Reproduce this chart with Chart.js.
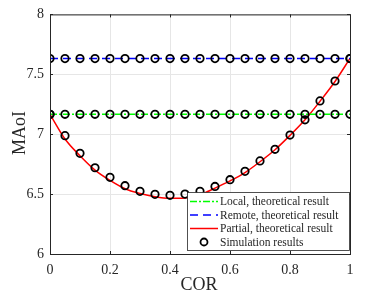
<!DOCTYPE html>
<html>
<head>
<meta charset="utf-8">
<script src="https://cdn.jsdelivr.net/npm/chart.js@4"></script>
<style>
  html, body { margin: 0; padding: 0; background: #fff; }
  #wrap { width: 388px; height: 296px; }
</style>
</head>
<body>
<div id="wrap"><canvas id="chart" width="388" height="296"></canvas></div>
<script>
const corValues = [0, 0.05, 0.1, 0.15, 0.2, 0.25, 0.3, 0.35, 0.4, 0.45, 0.5,
                   0.55, 0.6, 0.65, 0.7, 0.75, 0.8, 0.85, 0.9, 0.95, 1];
const localTheory = [7.166, 7.166];
const remoteTheory = [7.631, 7.631];
const partialTheory = [7.166, 6.96, 6.82, 6.70, 6.614, 6.545, 6.505, 6.478, 6.465, 6.468, 6.495,
                       6.55, 6.61, 6.68, 6.77, 6.87, 6.99, 7.12, 7.275, 7.44, 7.632];
const simLocal = [7.166, 7.166, 7.166, 7.166, 7.166, 7.166, 7.166, 7.166, 7.166, 7.166, 7.166,
                  7.166, 7.166, 7.166, 7.166, 7.166, 7.166, 7.166, 7.166, 7.166, 7.166];
const simRemote = [7.631, 7.631, 7.631, 7.631, 7.631, 7.631, 7.631, 7.631, 7.631, 7.631, 7.631,
                   7.631, 7.631, 7.631, 7.631, 7.631, 7.631, 7.631, 7.631, 7.631, 7.631];
const simPartial = [7.166, 6.988, 6.84, 6.72, 6.64, 6.57, 6.523, 6.498, 6.49, 6.50, 6.523,
                    6.564, 6.62, 6.69, 6.777, 6.874, 6.993, 7.12, 7.278, 7.444, 7.632];
const xTicks = [0, 0.2, 0.4, 0.6, 0.8, 1];
const yTicks = [6, 6.5, 7, 7.5, 8];
const legendLabels = ['Local, theoretical result', 'Remote, theoretical result',
                      'Partial, theoretical result', 'Simulation results'];

const serif = '"Liberation Serif", "Times New Roman", serif';
const axisColor = '#262626';

const pts = (xs, ys) => ys.map((y, i) => ({ x: xs[i], y }));
const ends = [corValues[0], corValues[corValues.length - 1]];

const simStyle = {
    type: 'scatter', showLine: false, pointStyle: 'circle', pointRadius: 3.7,
    pointBorderWidth: 1.8, pointBorderColor: '#000', pointBackgroundColor: 'rgba(0,0,0,0)'
};

// legend, box and axis titles drawn the MATLAB way
const matlabFrame = {
    id: 'matlabFrame',
    afterDraw(chart) {
        const ctx = chart.ctx, a = chart.chartArea;
        const xs = chart.scales.x, ys = chart.scales.y;
        ctx.save();
        ctx.strokeStyle = axisColor;
        ctx.lineWidth = 1;
        ctx.strokeRect(a.left + 0.5, a.top + 0.5, a.right - a.left, a.bottom - a.top);
        // inward ticks
        ctx.beginPath();
        xTicks.forEach(v => {
            const px = Math.round(xs.getPixelForValue(v)) + 0.5;
            ctx.moveTo(px, a.bottom); ctx.lineTo(px, a.bottom - 3);
            ctx.moveTo(px, a.top); ctx.lineTo(px, a.top + 3);
        });
        yTicks.forEach(v => {
            const py = Math.round(ys.getPixelForValue(v)) + 0.5;
            ctx.moveTo(a.left, py); ctx.lineTo(a.left + 3, py);
            ctx.moveTo(a.right, py); ctx.lineTo(a.right - 3, py);
        });
        ctx.stroke();

        // axis titles
        ctx.fillStyle = axisColor;
        ctx.font = '18px ' + serif;
        ctx.textAlign = 'center';
        ctx.textBaseline = 'middle';
        ctx.fillText('COR', 199, 285);
        ctx.save();
        ctx.translate(20, 133);
        ctx.rotate(-Math.PI / 2);
        ctx.fillText('MAoI', 0, 0);
        ctx.restore();

        // legend
        const bx = 187.5, by = 192.5, bw = 162, bh = 58;
        ctx.fillStyle = '#fff';
        ctx.fillRect(bx, by, bw, bh);
        ctx.strokeStyle = axisColor;
        ctx.lineWidth = 0.8;
        ctx.strokeRect(bx, by, bw, bh);
        const rows = [201.5, 215, 228.5, 242];
        const styles = [
            { color: '#00ff00', dash: [7, 2, 2, 2] },
            { color: '#0000ff', dash: [8, 5] },
            { color: '#ff0000', dash: [] },
            null
        ];
        ctx.font = '11.5px ' + serif;
        ctx.textAlign = 'left';
        rows.forEach((ry, i) => {
            const s = styles[i];
            if (s) {
                ctx.beginPath();
                ctx.setLineDash(s.dash);
                ctx.strokeStyle = s.color;
                ctx.lineWidth = 1.5;
                ctx.moveTo(190, ry); ctx.lineTo(218, ry);
                ctx.stroke();
                ctx.setLineDash([]);
            } else {
                ctx.beginPath();
                ctx.strokeStyle = '#000';
                ctx.lineWidth = 1.8;
                ctx.arc(204, ry, 3.5, 0, Math.PI * 2);
                ctx.stroke();
            }
            ctx.fillStyle = '#262626';
            ctx.fillText(legendLabels[i], 220, ry + 0.5);
        });
        ctx.restore();
    }
};

new Chart(document.getElementById('chart'), {
    type: 'line',
    data: {
        datasets: [
            { label: legendLabels[0], data: pts(ends, localTheory), borderColor: '#00ff00',
              borderWidth: 1.5, borderDash: [7, 2, 2, 2], pointRadius: 0, order: 3 },
            { label: legendLabels[1], data: pts(ends, remoteTheory), borderColor: '#0000ff',
              borderWidth: 1.5, borderDash: [8, 5], pointRadius: 0, order: 3 },
            { label: legendLabels[2], data: pts(corValues, partialTheory), borderColor: '#ff0000',
              borderWidth: 1.5, pointRadius: 0, cubicInterpolationMode: 'monotone', order: 3 },
            { ...simStyle, label: legendLabels[3], data: pts(corValues, simLocal), order: 1 },
            { ...simStyle, label: legendLabels[3] + ' 2', data: pts(corValues, simRemote), order: 1 },
            { ...simStyle, label: legendLabels[3] + ' 3', data: pts(corValues, simPartial), order: 1 }
        ]
    },
    options: {
        responsive: false,
        animation: false,
        devicePixelRatio: 1,
        layout: { padding: { top: 13, right: 38, left: 0, bottom: 0 } },
        plugins: { legend: { display: false }, tooltip: { enabled: false } },
        scales: {
            x: {
                type: 'linear', min: 0, max: 1,
                afterBuildTicks: s => { s.ticks = xTicks.map(v => ({ value: v })); },
                afterFit: s => { s.height = 42; },
                ticks: { color: axisColor, padding: 8, maxRotation: 0,
                         font: { family: serif, size: 14 }, callback: v => String(v) },
                grid: { color: '#e6e6e6', lineWidth: 1, drawTicks: false },
                border: { display: false }
            },
            y: {
                type: 'linear', min: 6, max: 8,
                afterBuildTicks: s => { s.ticks = yTicks.map(v => ({ value: v })); },
                afterFit: s => { s.width = 50; },
                ticks: { color: axisColor, padding: 6,
                         font: { family: serif, size: 14 }, callback: v => String(v) },
                grid: { color: '#e6e6e6', lineWidth: 1, drawTicks: false },
                border: { display: false }
            }
        }
    },
    plugins: [matlabFrame]
});
</script>
</body>
</html>
